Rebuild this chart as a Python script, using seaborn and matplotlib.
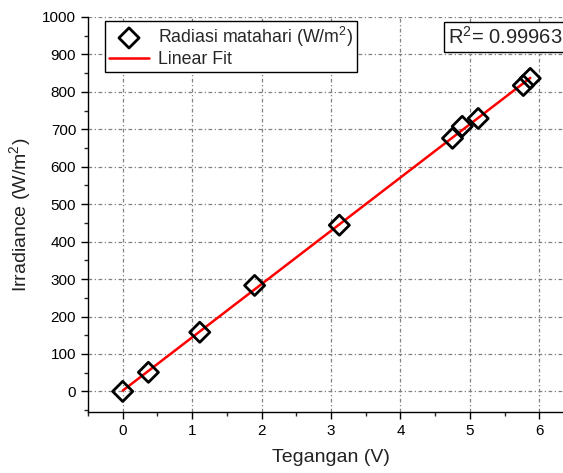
import numpy as np
import pandas as pd
import matplotlib
matplotlib.use("Agg")
import matplotlib.pyplot as plt
import seaborn as sns
from matplotlib.ticker import MultipleLocator

voltage = [0.0, 0.37, 1.11, 1.90, 3.12, 4.75, 4.89, 5.12, 5.77, 5.87]
irradiance = [0, 51, 158, 283, 444, 676, 708, 729, 817, 836]
r2_text = "R$^2$= 0.99963"
series_label = "Radiasi matahari (W/m$^2$)"
fit_label = "Linear Fit"

df = pd.DataFrame({"Tegangan": voltage, "Irradiance": irradiance})
slope, intercept = np.polyfit(df["Tegangan"], df["Irradiance"], 1)
fit_x = np.array([min(voltage), max(voltage)])
fit_df = pd.DataFrame({"x": fit_x, "y": slope * fit_x + intercept})

sns.set_style("ticks")
plt.rcParams["font.family"] = ["Liberation Sans", "DejaVu Sans"]
plt.rcParams["mathtext.fontset"] = "custom"
plt.rcParams["mathtext.rm"] = "Liberation Sans"

fig = plt.figure(figsize=(5.63, 4.73), dpi=100)
ax = fig.add_axes([88 / 563, (473 - 412) / 473, (574 - 88) / 563, (412 - 17) / 473])

ax.grid(True, which="major", color="#808080", linestyle=(0, (3, 2, 1, 2)), linewidth=0.9)
ax.set_axisbelow(True)

sns.lineplot(data=fit_df, x="x", y="y", ax=ax, color="red", linewidth=1.8, label=fit_label, zorder=3)
sns.scatterplot(data=df, x="Tegangan", y="Irradiance", ax=ax, marker="D", s=105,
                facecolor="none", edgecolor="black", linewidth=2.0, label=series_label, zorder=4)

ax.set_xlim(-0.5, 6.5)
ax.set_ylim(-55, 1000)
ax.xaxis.set_major_locator(MultipleLocator(1))
ax.xaxis.set_minor_locator(MultipleLocator(0.5))
ax.yaxis.set_major_locator(MultipleLocator(100))
ax.yaxis.set_minor_locator(MultipleLocator(50))
ax.tick_params(axis="both", which="major", direction="out", length=5, width=1, labelsize=11, colors="black")
ax.tick_params(axis="both", which="minor", direction="out", length=3, width=1)
for s in ["top", "right"]:
    ax.spines[s].set_visible(False)
for s in ["left", "bottom"]:
    ax.spines[s].set_linewidth(1.0)
    ax.spines[s].set_color("black")

ax.set_xlabel("Tegangan (V)", fontsize=14, color="#222222", labelpad=8)
ax.set_ylabel("Irradiance (W/m$^2$)", fontsize=14, color="#222222", labelpad=6)

handles, labels = ax.get_legend_handles_labels()
order = [labels.index(series_label), labels.index(fit_label)]
leg = ax.legend([handles[i] for i in order], [labels[i] for i in order],
                loc="upper left", bbox_to_anchor=(0.035, 0.99), fontsize=12.8,
                frameon=True, fancybox=False, edgecolor="black", framealpha=1,
                borderpad=0.2, labelspacing=0.15, handlelength=2.3, handletextpad=0.5,
                borderaxespad=0)
leg.get_frame().set_linewidth(1.0)

fig.text(448 / 563, 1 - 37 / 473, r2_text, fontsize=14.5, va="center", ha="left",
         bbox=dict(boxstyle="square,pad=0.2", facecolor="white", edgecolor="black", linewidth=1.0))

fig.savefig("out.png", dpi=100)
